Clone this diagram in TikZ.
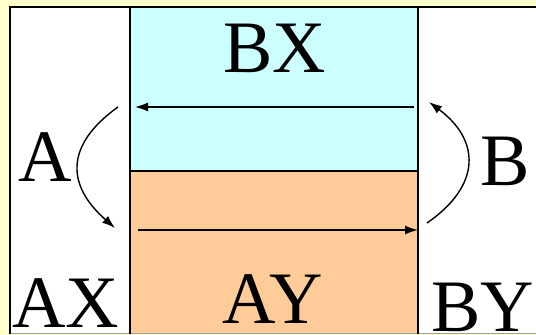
\documentclass[tikz,border=0pt]{standalone}
\usepackage{fontspec}
\setmainfont{Liberation Serif}
\usetikzlibrary{arrows.meta}
\definecolor{paleyellow}{HTML}{FFFFCC}
\definecolor{cyanfill}{HTML}{CCFFFF}
\definecolor{orangefill}{HTML}{FFCC99}
\definecolor{edgegray}{HTML}{A0A0A0}
\tikzset{
  lbl/.style={inner sep=0pt, outer sep=0pt, anchor=base, font=\fontsize{74}{74}\selectfont},
  arr/.style={line width=1.4pt, -{Latex[length=13pt,width=9pt]}},
  frame/.style={line width=2pt, black}
}
\begin{document}
\begin{tikzpicture}[x=1pt,y=1pt]
\useasboundingbox (0,0) rectangle (536,335);
\fill[paleyellow] (0,0) rectangle (536,335);
\fill[white] (10,1) rectangle (536,328);
\fill[cyanfill] (130,164) rectangle (418,328);
\fill[orangefill] (130,1) rectangle (418,164);
\draw[edgegray, line width=1pt] (10,1) -- (536,1);
\draw[frame] (10,1) -- (10,328) -- (536,328);
\draw[frame] (130,1) -- (130,328);
\draw[frame] (418,1) -- (418,328);
\draw[frame] (130,164) -- (418,164);
% labels
\node[lbl] (BX) at (275,262) {BX};
\node[lbl] (A) at (45.5,153) {A};
\node[lbl] (B) at (505,149) {B};
\node[lbl] (AX) at (66,7) {AX};
\node[lbl] (AY) at (273,12) {AY};
\node[lbl] (BY) at (482.5,3) {BY};
% arrow endpoints
\coordinate (t1) at (414,228);
\coordinate (t2) at (135,228);
\coordinate (b1) at (138,105);
\coordinate (b2) at (418,105);
\coordinate (l1) at (118,228);
\coordinate (l2) at (115,107);
\coordinate (r1) at (427,112);
\coordinate (r2) at (429,233);
\draw[arr] (t1) -- (t2);
\draw[arr] (b1) -- (b2);
\draw[arr] (l1) .. controls (65,190) and (66,150) .. (l2);
\draw[arr] (r1) .. controls (482,150) and (480,195) .. (r2);
\end{tikzpicture}
\end{document}
